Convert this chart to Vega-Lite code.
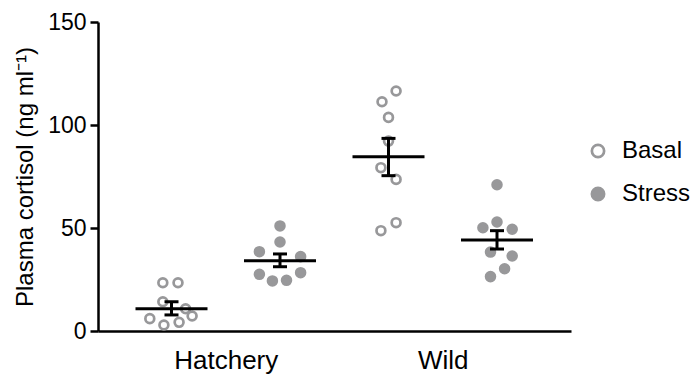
{
  "$schema": "https://vega.github.io/schema/vega-lite/v6.json",
  "width": 473,
  "height": 309,
  "autosize": "none",
  "padding": {"left": 98, "top": 22, "right": 121, "bottom": 46},
  "background": "white",
  "config": {"view": {"stroke": null}, "font": "Liberation Sans"},
  "datasets": {
    "points": [
      {"site": "Hatchery", "cond": "Basal", "pos": 0.92, "value": 23.4},
      {"site": "Hatchery", "cond": "Basal", "pos": 1.06, "value": 23.4},
      {"site": "Hatchery", "cond": "Basal", "pos": 0.92, "value": 14.2},
      {"site": "Hatchery", "cond": "Basal", "pos": 1.13, "value": 10.8},
      {"site": "Hatchery", "cond": "Basal", "pos": 1.19, "value": 7.3},
      {"site": "Hatchery", "cond": "Basal", "pos": 0.8, "value": 6.0},
      {"site": "Hatchery", "cond": "Basal", "pos": 1.07, "value": 4.2},
      {"site": "Hatchery", "cond": "Basal", "pos": 0.93, "value": 2.9},
      {"site": "Hatchery", "cond": "Stress", "pos": 2.0, "value": 51.0},
      {"site": "Hatchery", "cond": "Stress", "pos": 2.0, "value": 43.2},
      {"site": "Hatchery", "cond": "Stress", "pos": 1.81, "value": 38.5},
      {"site": "Hatchery", "cond": "Stress", "pos": 2.19, "value": 36.1},
      {"site": "Hatchery", "cond": "Stress", "pos": 1.81, "value": 27.5},
      {"site": "Hatchery", "cond": "Stress", "pos": 2.19, "value": 28.3},
      {"site": "Hatchery", "cond": "Stress", "pos": 1.93, "value": 24.3},
      {"site": "Hatchery", "cond": "Stress", "pos": 2.06, "value": 24.6},
      {"site": "Wild", "cond": "Basal", "pos": 3.07, "value": 116.5},
      {"site": "Wild", "cond": "Basal", "pos": 2.94, "value": 111.3},
      {"site": "Wild", "cond": "Basal", "pos": 3.0, "value": 103.7},
      {"site": "Wild", "cond": "Basal", "pos": 3.0, "value": 92.2},
      {"site": "Wild", "cond": "Basal", "pos": 2.93, "value": 79.3},
      {"site": "Wild", "cond": "Basal", "pos": 3.07, "value": 73.6},
      {"site": "Wild", "cond": "Basal", "pos": 3.07, "value": 52.6},
      {"site": "Wild", "cond": "Basal", "pos": 2.93, "value": 48.7},
      {"site": "Wild", "cond": "Stress", "pos": 4.0, "value": 71.0},
      {"site": "Wild", "cond": "Stress", "pos": 4.0, "value": 52.9},
      {"site": "Wild", "cond": "Stress", "pos": 3.87, "value": 50.1},
      {"site": "Wild", "cond": "Stress", "pos": 4.14, "value": 49.4},
      {"site": "Wild", "cond": "Stress", "pos": 3.94, "value": 38.3},
      {"site": "Wild", "cond": "Stress", "pos": 4.14, "value": 36.4},
      {"site": "Wild", "cond": "Stress", "pos": 4.07, "value": 30.2},
      {"site": "Wild", "cond": "Stress", "pos": 3.94, "value": 26.4}
    ],
    "summary": [
      {"site": "Hatchery", "cond": "Basal", "pos": 1, "mean": 10.8, "lo": 7.8, "hi": 14.2},
      {"site": "Hatchery", "cond": "Stress", "pos": 2, "mean": 34.1, "lo": 31.2, "hi": 37.4},
      {"site": "Wild", "cond": "Basal", "pos": 3, "mean": 84.6, "lo": 75.4, "hi": 93.5},
      {"site": "Wild", "cond": "Stress", "pos": 4, "mean": 44.2, "lo": 39.8, "hi": 48.7}
    ]
  },
  "layer": [
    {
      "data": {"name": "points"},
      "mark": {"type": "point", "shape": "circle", "filled": true, "size": 78, "strokeWidth": 2.7, "stroke": "#98989a", "opacity": 1},
      "encoding": {
        "x": {
          "field": "pos", "type": "quantitative",
          "scale": {"domain": [0.3226, 4.682], "nice": false, "zero": false},
          "axis": {
            "title": null, "values": [1.5, 3.5],
            "labelExpr": "datum.value < 2.5 ? 'Hatchery' : 'Wild'",
            "ticks": false, "grid": false,
            "domainColor": "black", "domainWidth": 2.5,
            "labelFontSize": 26, "labelColor": "black", "labelPadding": 16,
            "labelFont": "Liberation Sans"
          }
        },
        "y": {
          "field": "value", "type": "quantitative",
          "scale": {"domain": [0, 150], "nice": false},
          "axis": {
            "title": "Plasma cortisol (ng ml⁻¹)", "values": [0, 50, 100, 150],
            "grid": false, "domainColor": "black", "domainWidth": 2.5,
            "tickColor": "black", "tickWidth": 2.5, "tickSize": 8,
            "labelFontSize": 23, "labelColor": "black", "labelPadding": 4,
            "labelFont": "Liberation Sans",
            "titleFontSize": 24, "titleFont": "Liberation Sans", "titleFontWeight": "normal",
            "titleColor": "black", "titlePadding": 10
          }
        },
        "fill": {
          "field": "cond", "type": "nominal",
          "scale": {"domain": ["Basal", "Stress"], "range": ["#ffffff", "#98989a"]},
          "legend": {
            "title": null, "orient": "none", "legendX": 488, "legendY": 117,
            "symbolType": "circle", "symbolSize": 150,
            "symbolStrokeColor": "#98989a", "symbolStrokeWidth": 2.7,
            "labelFontSize": 24, "labelColor": "black", "labelFont": "Liberation Sans",
            "labelOffset": 12, "rowPadding": 19, "padding": 0
          }
        }
      }
    },
    {
      "data": {"name": "summary"},
      "mark": {"type": "rule", "color": "black", "strokeWidth": 3},
      "encoding": {
        "x": {"field": "pos", "type": "quantitative"},
        "y": {"field": "lo", "type": "quantitative"},
        "y2": {"field": "hi"}
      }
    },
    {
      "data": {"name": "summary"},
      "mark": {"type": "tick", "orient": "horizontal", "color": "black", "size": 72, "thickness": 3, "opacity": 1},
      "encoding": {
        "x": {"field": "pos", "type": "quantitative"},
        "y": {"field": "mean", "type": "quantitative"}
      }
    },
    {
      "data": {"name": "summary"},
      "mark": {"type": "tick", "orient": "horizontal", "color": "black", "size": 14, "thickness": 3, "opacity": 1},
      "encoding": {
        "x": {"field": "pos", "type": "quantitative"},
        "y": {"field": "lo", "type": "quantitative"}
      }
    },
    {
      "data": {"name": "summary"},
      "mark": {"type": "tick", "orient": "horizontal", "color": "black", "size": 14, "thickness": 3, "opacity": 1},
      "encoding": {
        "x": {"field": "pos", "type": "quantitative"},
        "y": {"field": "hi", "type": "quantitative"}
      }
    }
  ]
}
